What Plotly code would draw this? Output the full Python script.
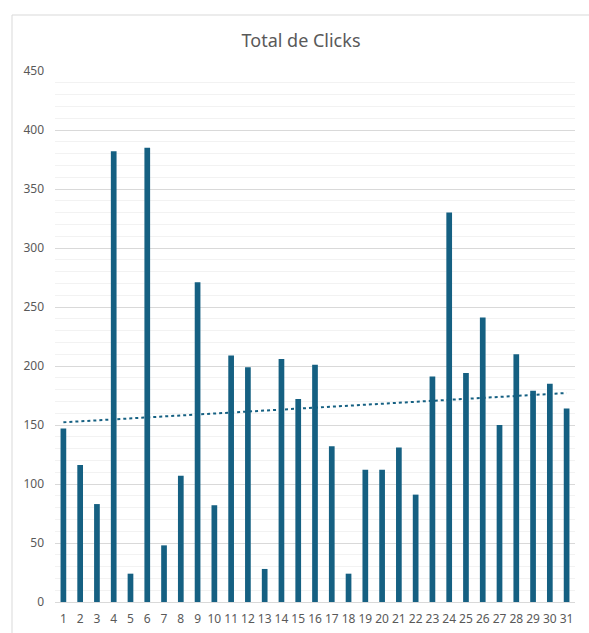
import numpy as np
import plotly.graph_objects as go

title = "Total de Clicks"
days = list(range(1, 32))
clicks = [147, 116, 83, 382, 24, 385, 48, 107, 271, 82,
          209, 199, 28, 206, 172, 201, 132, 24, 112, 112,
          131, 91, 191, 330, 194, 241, 150, 210, 179, 185, 164]
y_ticks = list(range(0, 451, 50))

bar_color = "#156082"
text_color = "#595959"

# linear trendline (as in Excel) computed from the data
slope, intercept = np.polyfit(days, clicks, 1)
trend_x = [days[0], days[-1]]
trend_y = [slope * x + intercept for x in trend_x]

fig = go.Figure()
fig.add_trace(go.Bar(x=days, y=clicks, marker=dict(color=bar_color, line=dict(width=0)),
                     width=0.34, showlegend=False, hoverinfo="skip"))
fig.add_trace(go.Scatter(x=trend_x, y=trend_y, mode="lines",
                         line=dict(color=bar_color, width=2, dash="dot"),
                         showlegend=False, hoverinfo="skip"))

W, H = 589, 633
L, R, T, B = 55, 14, 71, 31
pw, ph = W - L - R, H - T - B

def px(xp):
    return (xp - L) / pw

def py(yp):
    return (H - B - yp) / ph

fig.update_layout(
    width=W, height=H,
    margin=dict(l=L, r=R, t=T, b=B, autoexpand=False),
    paper_bgcolor="white", plot_bgcolor="white",
    font=dict(family="Noto Sans, Open Sans, sans-serif", color=text_color, size=12),
    title=dict(text=title, x=301 / W, xanchor="center", y=1 - 41 / H,
               yanchor="middle", font=dict(size=18, color=text_color)),
    xaxis=dict(range=[0.5, 31.5], tickmode="array", tickvals=days,
               ticktext=[str(d) for d in days], showgrid=False, zeroline=False,
               showline=True, linecolor="#d9d9d9", linewidth=1, ticks="",
               ticklabelstandoff=6, automargin=False,
               tickfont=dict(size=12, color=text_color), fixedrange=True),
    yaxis=dict(range=[0, 450], tickmode="array", tickvals=y_ticks,
               showgrid=True, gridcolor="#d9d9d9", gridwidth=1, zeroline=False,
               showline=False, ticks="", ticklabelstandoff=10, automargin=False,
               tickfont=dict(size=12, color=text_color), fixedrange=True,
               minor=dict(dtick=10, showgrid=True, gridcolor="#f2f2f2", gridwidth=1)),
    bargap=0.66,
    hovermode=False,
    shapes=[
        dict(type="line", xref="paper", yref="paper", x0=px(12), x1=px(589),
             y0=py(15), y1=py(15), line=dict(color="#d9d9d9", width=1)),
        dict(type="line", xref="paper", yref="paper", x0=px(12), x1=px(12),
             y0=py(15), y1=py(633), line=dict(color="#d9d9d9", width=1)),
    ],
)

fig.write_html("out.html", config={"displayModeBar": False},
               post_script="document.body.style.margin='0';document.body.style.overflow='hidden';")
